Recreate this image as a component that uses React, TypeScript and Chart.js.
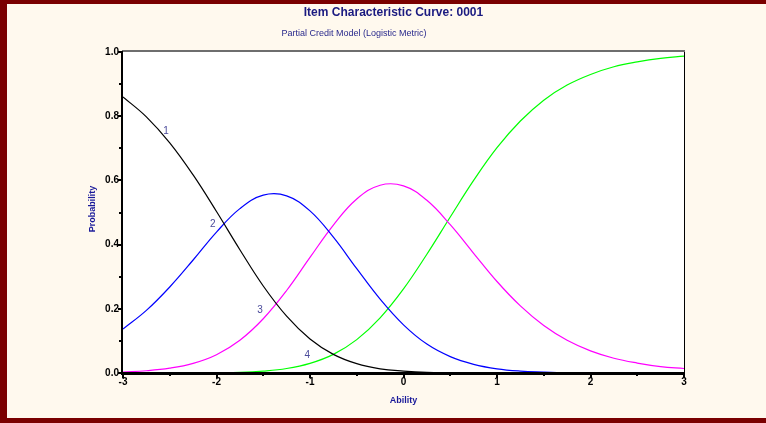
import React, { useEffect, useRef } from "react";
import { Chart, registerables } from "chart.js";

Chart.register(...registerables);

// Ability (theta) grid read along the x axis
const abilities = [
  -3, -2.75, -2.5, -2.25, -2, -1.75, -1.5, -1.25, -1, -0.75, -0.5, -0.25,
  0, 0.25, 0.5, 0.75, 1, 1.25, 1.5, 1.75, 2, 2.25, 2.5, 2.75, 3,
];

// Category probabilities
const category1 = [
  0.86, 0.798, 0.717, 0.617, 0.503, 0.384, 0.271, 0.177, 0.106, 0.058, 0.029,
  0.013, 0.006, 0.002, 0.001, 0.0003, 0.0001, 0, 0, 0, 0, 0, 0, 0, 0,
];
const category2 = [
  0.137, 0.195, 0.268, 0.352, 0.439, 0.512, 0.554, 0.552, 0.505, 0.423, 0.325,
  0.23, 0.15, 0.09, 0.051, 0.027, 0.013, 0.006, 0.003, 0.001, 0.0006, 0.0003,
  0.0001, 0, 0,
];
const category3 = [
  0.003, 0.007, 0.015, 0.03, 0.057, 0.102, 0.169, 0.257, 0.36, 0.461, 0.542,
  0.585, 0.583, 0.538, 0.462, 0.373, 0.285, 0.209, 0.148, 0.102, 0.069, 0.046,
  0.031, 0.02, 0.014,
];
const category4 = [
  0, 0, 0.0001, 0.0003, 0.001, 0.002, 0.006, 0.014, 0.03, 0.058, 0.104, 0.172,
  0.262, 0.37, 0.486, 0.6, 0.702, 0.785, 0.85, 0.897, 0.93, 0.954, 0.969,
  0.98, 0.987,
];

const categoryNames = ["1", "2", "3", "4"];
const categoryColors = ["#000000", "#0000FF", "#FF00FF", "#00FF00"];
// where each curve's number is written (data coordinates)
const categoryLabelAbility = [-2.54, -2.04, -1.535, -1.03];
const categoryLabelProb = [0.754, 0.464, 0.196, 0.056];

const titleText = "Item Characteristic Curve: 0001";
const subtitleText = "Partial Credit Model (Logistic Metric)";
const xTitle = "Ability";
const yTitle = "Probability";

const FONT = "'Liberation Sans', Arial, Helvetica, sans-serif";

export default function App() {
  const ref = useRef<HTMLCanvasElement>(null);

  useEffect(() => {
    const canvas = ref.current;
    if (!canvas) return;
    const ctx = canvas.getContext("2d");
    if (!ctx) return;

    const seriesList = [category1, category2, category3, category4];

    const framePlugin = {
      id: "frame",
      beforeDraw(chart: any) {
        const { ctx: c, chartArea: a } = chart;
        c.save();
        c.fillStyle = "#FFFFFF";
        c.fillRect(a.left, a.top, a.right - a.left, a.bottom - a.top);
        c.restore();
      },
      afterDraw(chart: any) {
        const { ctx: c, chartArea: a, scales } = chart;
        const xs = scales.x;
        const ys = scales.y;
        c.save();
        // frame lines
        c.fillStyle = "#6E6E6E";
        c.fillRect(a.left - 1, a.top - 2, a.right - a.left + 2, 2);
        c.fillStyle = "#000000";
        c.fillRect(a.left - 2, a.top - 1, 2, a.bottom - a.top + 3);
        c.fillRect(a.left - 2, a.bottom - 1, a.right - a.left + 3, 3);
        c.fillRect(a.right, a.top, 1, a.bottom - a.top);

        // y ticks
        const yt = ys.ticks.map((t: any) => t.value);
        yt.forEach((v: number) => {
          const py = Math.round(ys.getPixelForValue(v));
          c.fillRect(a.left - 5, py - 1, 4, 2);
        });
        for (let i = 0; i < yt.length - 1; i++) {
          const py = Math.round(ys.getPixelForValue((yt[i] + yt[i + 1]) / 2));
          c.fillRect(a.left - 4, py - 1, 2, 2);
        }
        // x ticks
        const xt = xs.ticks.map((t: any) => t.value);
        xt.forEach((v: number) => {
          const px = Math.round(xs.getPixelForValue(v));
          c.fillRect(px - 1, a.bottom + 1, 2, 4);
        });
        for (let i = 0; i < xt.length - 1; i++) {
          const px = Math.round(xs.getPixelForValue((xt[i] + xt[i + 1]) / 2));
          c.fillRect(px - 1, a.bottom + 1, 2, 2);
        }

        // titles
        c.textAlign = "center";
        c.textBaseline = "middle";
        c.fillStyle = "#1A1A80";
        c.font = `bold 12px ${FONT}`;
        c.fillText(titleText, 393.5, 13);
        c.fillStyle = "#2A2A8C";
        c.font = `9px ${FONT}`;
        c.fillText(subtitleText, 354, 34);

        // axis titles
        c.fillStyle = "#1A1A9A";
        c.font = `bold 9px ${FONT}`;
        c.fillText(xTitle, (a.left + a.right) / 2, 401);
        c.save();
        c.translate(93, 209);
        c.rotate(-Math.PI / 2);
        c.fillText(yTitle, 0, 0);
        c.restore();

        // curve labels
        c.fillStyle = "#4A4A9A";
        c.font = `10px ${FONT}`;
        categoryNames.forEach((name, i) => {
          c.fillText(
            name,
            xs.getPixelForValue(categoryLabelAbility[i]),
            ys.getPixelForValue(categoryLabelProb[i])
          );
        });
        c.restore();
      },
    };

    const chart = new Chart(ctx, {
      type: "line",
      data: {
        datasets: seriesList.map((arr, i) => ({
          label: categoryNames[i],
          data: abilities.map((x, j) => ({ x, y: arr[j] })),
          borderColor: categoryColors[i],
          borderWidth: 1.2,
          pointRadius: 0,
          fill: false,
          tension: 0.4,
        })),
      },
      options: {
        responsive: false,
        animation: false,
        events: [],
        layout: { padding: { left: 83, right: 82, top: 52, bottom: 0 } },
        plugins: {
          legend: { display: false },
          tooltip: { enabled: false },
          title: { display: false },
        },
        scales: {
          x: {
            type: "linear",
            min: -3,
            max: 3,
            ticks: {
              stepSize: 1,
              color: "#000000",
              font: { family: FONT, size: 10, weight: "bold" },
              padding: 3,
              maxRotation: 0,
            },
            grid: { display: false, drawTicks: false },
            border: { display: false },
            afterFit(s: any) {
              s.height = 50;
            },
          },
          y: {
            type: "linear",
            min: 0,
            max: 1,
            ticks: {
              stepSize: 0.2,
              color: "#000000",
              font: { family: FONT, size: 10, weight: "bold" },
              padding: 4,
              callback: (v: any) => Number(v).toFixed(1),
            },
            grid: { display: false, drawTicks: false },
            border: { display: false },
            afterFit(s: any) {
              s.width = 40;
            },
          },
        },
      },
      plugins: [framePlugin],
    });

    return () => chart.destroy();
  }, []);

  return (
    <>
      <div
        style={{
          position: "fixed",
          left: 0,
          top: 0,
          width: 766,
          height: 423,
          boxSizing: "border-box",
          background: "#FFF9EE",
          borderTop: "4px solid #7A0000",
          borderLeft: "7px solid #7A0000",
          borderBottom: "5px solid #7A0000",
        }}
      />
      <canvas
        ref={ref}
        width={766}
        height={423}
        style={{ position: "fixed", left: 0, top: 0, width: 766, height: 423 }}
      />
    </>
  );
}
